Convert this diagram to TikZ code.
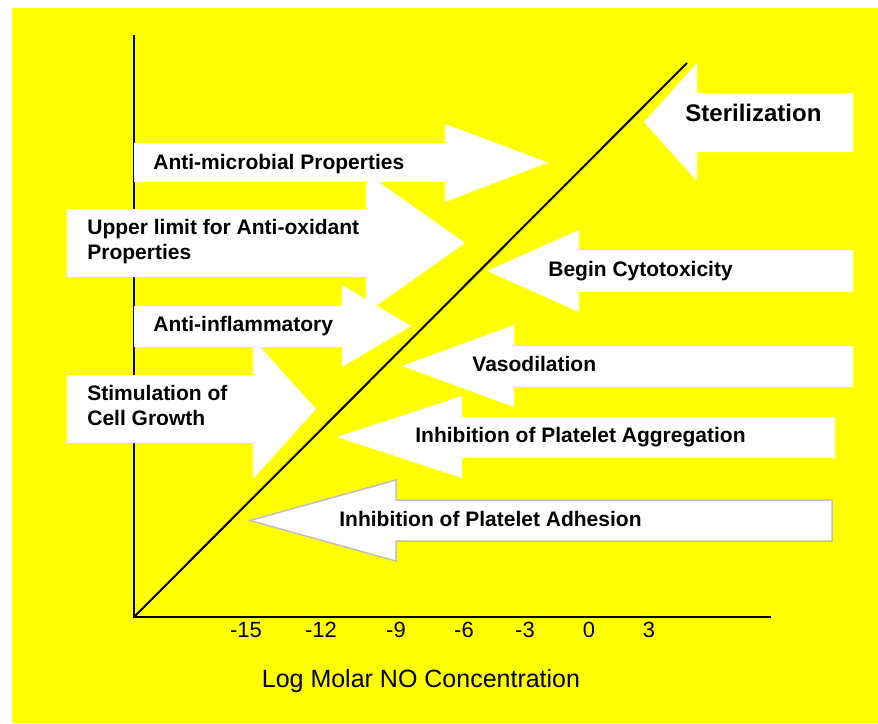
\documentclass[tikz,border=0pt]{standalone}
\usepackage{fontspec}
\setmainfont{Liberation Sans}
\definecolor{bgyellow}{RGB}{255,255,0}
\definecolor{rimgray}{RGB}{192,192,192}
\begin{document}
\begin{tikzpicture}[x=0.5pt, y=-0.5pt,
    tag/.style={font=\fontsize{10.5}{12.3}\selectfont\bfseries, anchor=base west, inner sep=0pt, align=left},
    band/.style={fill=white},
    axis/.style={line width=1pt, black}]
    \useasboundingbox (0,0) rectangle (878,723);
    \fill[bgyellow] (12,8) rectangle (878,723);

    % Axes
    \coordinate (O) at (134,617);
    \coordinate (ytop) at (134,35);
    \coordinate (xend) at (771,617);
    \coordinate (dtop) at (687,63);
    \draw[axis] (ytop) -- (O) -- (xend);

    % Arrows to the right
    \fill[band] (134,143) -- (445,143) -- (445,124) -- (548,162.5) -- (445,202) -- (445,182) -- (134,182) -- cycle;
    \fill[band] (67,209) -- (366,209) -- (366,173) -- (465,243) -- (366,313) -- (366,277) -- (67,277) -- cycle;
    \fill[band] (134,306) -- (342,306) -- (342,285) -- (411,326) -- (342,367) -- (342,347) -- (134,347) -- cycle;
    \fill[band] (67,375) -- (253,375) -- (253,339) -- (316,409) -- (253,479) -- (253,443) -- (67,443) -- cycle;

    % Arrows to the left
    \fill[band] (853,93) -- (697,93) -- (697,63) -- (644,122) -- (697,181) -- (697,152) -- (853,152) -- cycle;
    \fill[band] (853,250) -- (579,250) -- (579,230) -- (487,271) -- (579,312) -- (579,292) -- (853,292) -- cycle;
    \fill[band] (853,346) -- (514,346) -- (514,325) -- (402,366) -- (514,407) -- (514,387) -- (853,387) -- cycle;
    \fill[band] (835,417) -- (462,417) -- (462,396) -- (337,437) -- (462,478) -- (462,458) -- (835,458) -- cycle;
    \draw[band, draw=rimgray, line width=0.75pt] (832,500) -- (396,500) -- (396,480) -- (250,520.5) -- (396,561) -- (396,541) -- (832,541) -- cycle;

    % Diagonal
    \draw[axis] (O) -- (dtop);

    % Labels
    \node (amicro) [tag] at (153,169) {Anti-microbial Properties};
    \node (antiox) [tag] at (87,259) {Upper limit for Anti-oxidant\\Properties};
    \node (ainfl) [tag] at (153,331) {Anti-inflammatory};
    \node (growth) [tag] at (87,425) {Stimulation of\\Cell Growth};
    \node (steril) [tag, font=\fontsize{12}{14}\selectfont\bfseries] at (685,121) {Sterilization};
    \node (cyto) [tag] at (548,276) {Begin Cytotoxicity};
    \node (vaso) [tag] at (472,371) {Vasodilation};
    \node (aggr) [tag] at (415,442) {Inhibition of Platelet Aggregation};
    \node (adhe) [tag] at (339,526) {Inhibition of Platelet Adhesion};

    % Tick labels
    \foreach \v/\x [count=\k] in {-15/246, -12/321, -9/396, -6/464, -3/525, 0/589, 3/649}
        \node (tick\k) [anchor=base, inner sep=0pt, font=\fontsize{11}{13}\selectfont] at (\x,637) {\v};

    \node (xlabel) [anchor=base, inner sep=0pt, font=\fontsize{12.5}{15}\selectfont] at (421,687) {Log Molar NO Concentration};
\end{tikzpicture}
\end{document}
